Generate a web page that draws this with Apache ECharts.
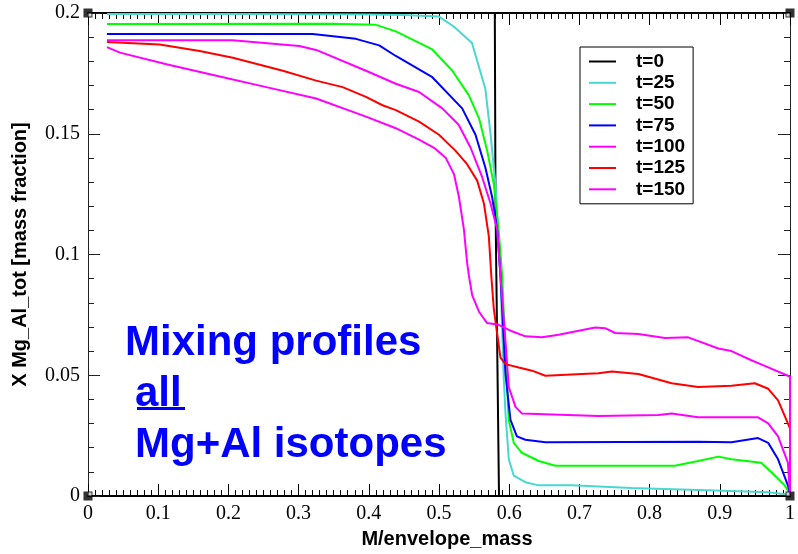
<!DOCTYPE html>
<html><head><meta charset="utf-8">
<script src="https://cdn.jsdelivr.net/npm/echarts@6/dist/echarts.min.js"></script>
<style>html,body{margin:0;padding:0;background:#fff}#c{width:798px;height:554px}</style>
</head><body><div id="c"></div>
<script>
// ---- data ----
const seriesNames = ['t=0', 't=25', 't=50', 't=75', 't=100', 't=125', 't=150'];

const t0_x = [0.027, 0.5795, 0.5805, 0.5855, 1.0];
const t0_y = [0.2, 0.2, 0.12, 0.0, 0.0];

const t25_x = [0.027, 0.2, 0.4, 0.45, 0.5, 0.521, 0.547, 0.566, 0.573, 0.5805, 0.5876, 0.592, 0.5947, 0.5994, 0.6065, 0.623, 0.642, 0.689, 0.774, 0.893, 0.969, 1.0];
const t25_y = [0.1996, 0.1996, 0.1994, 0.1992, 0.1985, 0.1944, 0.1876, 0.1686, 0.151, 0.129, 0.0912, 0.0505, 0.0342, 0.0152, 0.0084, 0.0057, 0.0044, 0.0044, 0.0033, 0.0023, 0.0016, 0.0005];

const t50_x = [0.027, 0.348, 0.41, 0.4385, 0.4905, 0.519, 0.5426, 0.557, 0.5686, 0.578, 0.585, 0.59, 0.5947, 0.5994, 0.6065, 0.618, 0.642, 0.666, 0.836, 0.869, 0.898, 0.9166, 0.959, 0.9735, 0.9924, 1.0];
const t50_y = [0.1954, 0.1956, 0.1951, 0.1924, 0.1849, 0.1761, 0.1659, 0.1564, 0.143, 0.1293, 0.110, 0.0912, 0.0587, 0.0315, 0.022, 0.0179, 0.0145, 0.0125, 0.0125, 0.0145, 0.0163, 0.0152, 0.0138, 0.0098, 0.0044, 0.001];

const t75_x = [0.027, 0.32, 0.3816, 0.4148, 0.4385, 0.4905, 0.533, 0.552, 0.566, 0.5757, 0.583, 0.5876, 0.5947, 0.6018, 0.611, 0.623, 0.6515, 0.8695, 0.9166, 0.9545, 0.969, 0.983, 0.997, 1.0];
const t75_y = [0.1913, 0.1913, 0.1893, 0.1866, 0.1822, 0.1734, 0.1605, 0.1496, 0.136, 0.1238, 0.110, 0.0912, 0.0505, 0.0315, 0.0247, 0.0233, 0.0223, 0.0225, 0.0223, 0.024, 0.022, 0.0152, 0.0044, 0.001];

const t100_x = [0.027, 0.206, 0.301, 0.325, 0.396, 0.4385, 0.4716, 0.5047, 0.528, 0.545, 0.5615, 0.5734, 0.583, 0.5876, 0.5947, 0.5994, 0.609, 0.618, 0.727, 0.8125, 0.8314, 0.869, 0.9545, 0.969, 0.983, 0.997, 1.0];
const t100_y = [0.1887, 0.1887, 0.1863, 0.1847, 0.1761, 0.1707, 0.1673, 0.1605, 0.1537, 0.1442, 0.132, 0.1211, 0.1103, 0.0912, 0.0641, 0.0451, 0.0369, 0.0342, 0.0331, 0.0335, 0.0342, 0.0326, 0.0326, 0.0301, 0.0247, 0.0138, 0.001];

const t125_x = [0.027, 0.102, 0.159, 0.2064, 0.2775, 0.325, 0.3627, 0.396, 0.4195, 0.4385, 0.4716, 0.5, 0.5237, 0.540, 0.5544, 0.564, 0.571, 0.5745, 0.578, 0.583, 0.5876, 0.5947, 0.6136, 0.6326, 0.6515, 0.7036, 0.727, 0.7462, 0.784, 0.8314, 0.869, 0.9166, 0.9498, 0.969, 0.983, 0.997, 1.0, 1.0];
const t125_y = [0.188, 0.187, 0.1843, 0.1815, 0.1761, 0.172, 0.1693, 0.1653, 0.1618, 0.1598, 0.155, 0.1496, 0.1429, 0.1374, 0.1306, 0.1211, 0.1075, 0.0912, 0.0777, 0.0668, 0.0573, 0.0546, 0.0532, 0.0519, 0.0498, 0.0505, 0.0508, 0.0516, 0.0505, 0.0467, 0.0451, 0.0457, 0.0467, 0.0444, 0.0396, 0.0301, 0.028, 0.0];

const t150_x = [0.027, 0.0455, 0.1118, 0.183, 0.254, 0.325, 0.396, 0.4385, 0.4716, 0.4929, 0.5095, 0.5213, 0.5284, 0.5355, 0.540, 0.5426, 0.5473, 0.557, 0.5686, 0.585, 0.604, 0.623, 0.6468, 0.6705, 0.699, 0.7226, 0.7368, 0.751, 0.784, 0.822, 0.855, 0.898, 0.9166, 0.945, 0.964, 0.997, 1.0, 1.0];
const t150_y = [0.1859, 0.1836, 0.1788, 0.174, 0.1693, 0.1646, 0.1571, 0.1523, 0.1476, 0.1442, 0.1401, 0.1333, 0.1238, 0.1103, 0.0967, 0.0912, 0.0831, 0.0763, 0.0716, 0.0709, 0.0682, 0.0661, 0.0657, 0.0668, 0.0684, 0.0698, 0.0695, 0.0675, 0.0671, 0.0654, 0.0657, 0.0611, 0.060, 0.0562, 0.0539, 0.0498, 0.0495, 0.0];

const xMin = 0, xMax = 1, xStep = 0.1;
const yMin = 0, yMax = 0.2, yStep = 0.05;

const xTitle = 'M/envelope_mass';
const yTitle = 'X Mg_Al_tot [mass fraction]';
const noteLines = ['Mixing profiles', 'all', 'Mg+Al isotopes'];

// ---- styles ----
const seriesColors = ['#000000', '#48d8d0', '#00ff00', '#0000ff', '#ff00ff', '#ff0000', '#ff00ff'];
const allX = [t0_x, t25_x, t50_x, t75_x, t100_x, t125_x, t150_x];
const allY = [t0_y, t25_y, t50_y, t75_y, t100_y, t125_y, t150_y];

function pairs(xs, ys) { return xs.map((x, i) => [x, ys[i]]); }

const serif = 'Liberation Serif, DejaVu Serif, serif';
const sans = 'Liberation Sans, Arial, sans-serif';

const lineSeries = seriesNames.map((n, i) => ({
  name: n, type: 'line', data: pairs(allX[i], allY[i]),
  showSymbol: false, symbol: 'none', smooth: false,
  lineStyle: { color: seriesColors[i], width: 2 },
  itemStyle: { color: seriesColors[i] },
  clip: false, z: 3
}));

const corners = [[xMin, yMin], [xMin, yMax], [xMax, yMin], [xMax, yMax]];
const cornerOffsets = [[2, -2], [2, 2], [-2, -2], [-2, 2]];

const chart = echarts.init(document.getElementById('c'), null, { renderer: 'canvas' });

const baseXAxis = {
  type: 'value', min: xMin, max: xMax, interval: xStep,
  axisLine: { show: true, onZero: false, lineStyle: { color: '#000', width: 2 } },
  axisTick: { show: true, inside: true, length: 12, lineStyle: { color: '#000', width: 1 } },
  minorTick: { show: true, splitNumber: 10, length: 6, lineStyle: { color: '#000', width: 1 } },
  splitLine: { show: false }
};
const baseYAxis = {
  type: 'value', min: yMin, max: yMax, interval: yStep,
  axisLine: { show: true, onZero: false, lineStyle: { color: '#222', width: 1 } },
  axisTick: { show: true, inside: true, length: 12, lineStyle: { color: '#222', width: 1 } },
  minorTick: { show: true, splitNumber: 5, length: 6, lineStyle: { color: '#222', width: 1 } },
  splitLine: { show: false }
};

const option = {
  backgroundColor: '#fff',
  animation: false,
  grid: { left: 88, right: 6, top: 13, bottom: 50, containLabel: false },
  xAxis: [
    Object.assign({}, baseXAxis, {
      position: 'bottom',
      name: xTitle, nameLocation: 'middle', nameGap: 33,
      nameTextStyle: { fontFamily: sans, fontWeight: 'bold', fontSize: 20, color: '#000', padding: [0, 0, 0, 16] },
      axisLabel: { show: true, fontFamily: serif, fontSize: 20, color: '#000', margin: 8 }
    }),
    Object.assign({}, baseXAxis, { position: 'top', axisLabel: { show: false } })
  ],
  yAxis: [
    Object.assign({}, baseYAxis, {
      position: 'left',
      name: yTitle, nameLocation: 'middle', nameGap: 58, nameRotate: 90,
      nameTextStyle: { fontFamily: sans, fontWeight: 'bold', fontSize: 20, color: '#000' },
      axisLabel: { show: true, fontFamily: serif, fontSize: 20, color: '#000', margin: 8 }
    }),
    Object.assign({}, baseYAxis, { position: 'right', axisLabel: { show: false } })
  ],
  legend: {
    data: seriesNames,
    orient: 'vertical', left: 580, top: 47,
    icon: 'rect', itemWidth: 27, itemHeight: 2, itemGap: 0.3,
    padding: [4, 8, 4, 9],
    borderColor: '#000', borderWidth: 1, borderRadius: 0,
    backgroundColor: '#fff',
    selectedMode: false,
    textStyle: { fontFamily: sans, fontWeight: 'bold', fontSize: 19, color: '#000', lineHeight: 21, padding: [0, 0, 0, 15] }
  },
  graphic: [
    { type: 'text', left: 125, top: 322, z: 10,
      style: { text: noteLines[0], fill: '#0000ff', font: 'bold 42px ' + sans } },
    { type: 'text', left: 135, top: 373, z: 10,
      style: { text: noteLines[1], fill: '#0000ff', font: 'bold 42px ' + sans } },
    { type: 'rect', left: 137, top: 407, z: 10,
      shape: { width: 48, height: 3 }, style: { fill: '#0000ff' } },
    { type: 'text', left: 135, top: 424, z: 10,
      style: { text: noteLines[2], fill: '#0000ff', font: 'bold 42px ' + sans } }
  ],
  series: lineSeries.concat([
    { type: 'scatter', data: corners, symbol: 'rect', symbolSize: 9, silent: true, clip: false, z: 6,
      itemStyle: { color: '#000' } },
    { type: 'scatter', silent: true, clip: false, z: 7, symbol: 'rect', symbolSize: 3,
      data: corners.map((c, i) => ({ value: c, symbolOffset: cornerOffsets[i] })),
      itemStyle: { color: '#fff' } }
  ])
};
chart.setOption(option);
</script></body></html>
